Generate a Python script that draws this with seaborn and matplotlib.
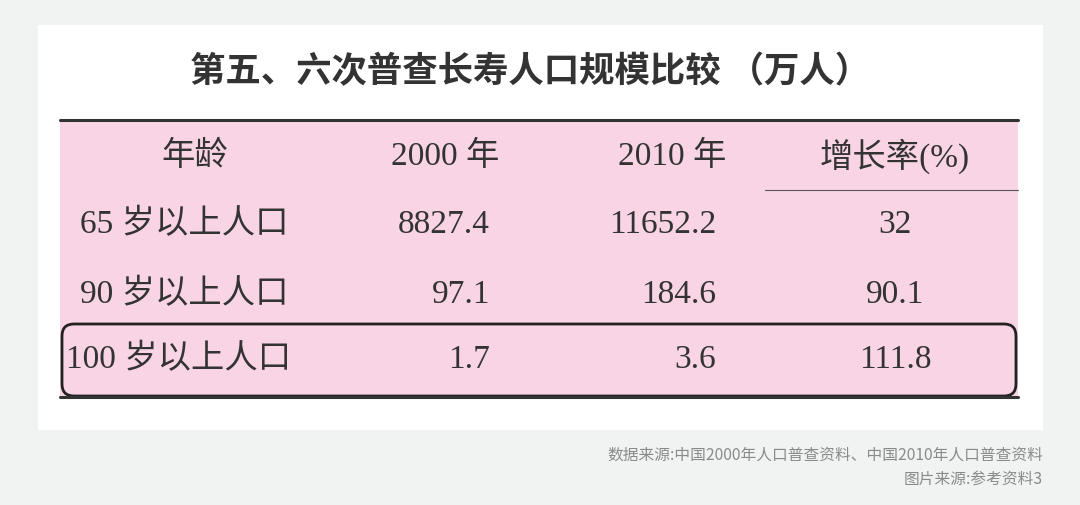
import matplotlib
matplotlib.use("Agg")
import matplotlib.pyplot as plt
import seaborn as sns
from matplotlib.patches import Rectangle, FancyBboxPatch

title = "第五、六次普查长寿人口规模比较 （万人）"
headers = ["年龄", "2000 年", "2010 年", "增长率(%)"]
ages = ["65 岁以上人口", "90 岁以上人口", "100 岁以上人口"]
v2000 = ["8827.4", "97.1", "1.7"]
v2010 = ["11652.2", "184.6", "3.6"]
growth = ["32", "90.1", "111.8"]
notes = ["数据来源:中国2000年人口普查资料、中国2010年人口普查资料", "图片来源:参考资料3"]

sns.set_theme(style="white")
plt.rcParams['font.family'] = ['Noto Sans CJK SC', 'DejaVu Sans']
serif = ['Liberation Serif', 'Noto Sans CJK SC']
fs = 24

fig = plt.figure(figsize=(10.8, 5.05), dpi=100, facecolor="#f1f2f2")
ax = fig.add_axes([0, 0, 1, 1])
ax.set_xlim(0, 1080); ax.set_ylim(505, 0); ax.axis("off")

ax.add_patch(Rectangle((38, 25), 1005, 405, fc="white", ec="none"))
ax.text(530, 72, title, ha="center", va="center", fontsize=25.5, fontweight="bold", color="#333333")
ax.add_patch(Rectangle((60, 120), 958, 278, fc="#f9d4e4", ec="none"))
ax.plot([60, 1018], [120, 120], color="#333", lw=2.2)
ax.plot([765, 1018], [190, 190], color="#555", lw=0.8)
ax.plot([60, 1018], [397, 397], color="#333", lw=2.2)
ax.add_patch(FancyBboxPatch((62, 324), 954, 72, boxstyle="round,pad=0,rounding_size=12",
                            fc="none", ec="#222", lw=2))

hx = [195, 445, 672, 895]
for x, h in zip(hx, headers):
    ax.text(x, 156, h, ha="center", va="center", fontsize=fs, family=serif, color="#333")
rows_y = [225, 295, 360]
for i, y in enumerate(rows_y):
    lx = 80 if i < 2 else 66
    ax.text(lx, y, ages[i], ha="left", va="center", fontsize=fs, family=serif, color="#333")
    ax.text(490, y, v2000[i], ha="right", va="center", fontsize=fs, family=serif, color="#333")
    ax.text(716, y, v2010[i], ha="right", va="center", fontsize=fs, family=serif, color="#333")
    ax.text(895, y, growth[i], ha="center", va="center", fontsize=fs, family=serif, color="#333")

ax.text(1043, 455, notes[0], ha="right", va="center", fontsize=11.3, color="#8a8a8a")
ax.text(1043, 479, notes[1], ha="right", va="center", fontsize=11.3, color="#8a8a8a")

fig.savefig("out.png", dpi=100, facecolor=fig.get_facecolor())
